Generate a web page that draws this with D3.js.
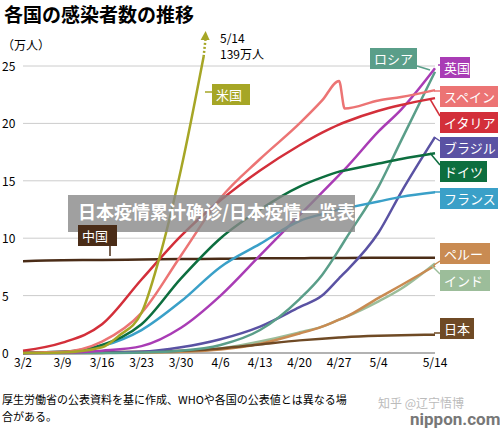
<!DOCTYPE html>
<html><head><meta charset="utf-8">
<script src="https://cdn.jsdelivr.net/npm/d3@7"></script>
<style>body{margin:0;background:#fff;font-family:"Noto Sans CJK JP","Noto Sans",sans-serif}</style>
</head><body><svg id="c" width="500" height="428"></svg>
<script>
const tickDates=["3/2","3/9","3/16","3/23","3/30","4/6","4/13","4/20","4/27","5/4","5/14"];
const yTicks=[0,5,10,15,20,25];
const usDates=["3/2","3/9","3/16","3/19","3/23","3/26","3/30","4/3"];
const usVals=[0,0.05,0.5,1.5,3.5,8,16,25.8];
const dates=["3/2","3/9","3/16","3/23","3/30","4/6","4/13","4/20","4/24","4/27","4/28","5/4","5/8","5/14"];
const italy=[0.2,0.9,2.5,6.4,10.2,13.3,15.9,18.1,19.2,19.9,20.1,21.1,21.6,22.2];
const spain=[0.01,0.1,1.0,3.5,8.5,13.5,16.9,20.0,22.0,23.7,21.3,22.0,22.3,22.9];
const germany=[0.01,0.1,0.7,2.5,6.5,10.0,12.5,14.5,15.3,15.8,15.9,16.5,16.9,17.4];
const france=[0.01,0.1,0.6,2.0,4.5,7.5,9.5,11.5,12.1,12.5,12.6,13.2,13.6,14.0];
const uk=[0,0.02,0.2,0.6,2.2,5.0,8.5,12.0,14.0,15.5,16.0,19.3,21.2,24.8];
const russia=[0,0,0.01,0.05,0.2,0.7,2.0,4.7,6.8,9.0,9.8,14.5,18.5,24.5];
const brazil=[0,0,0.02,0.1,0.5,1.2,2.3,4.0,5.0,6.5,7.0,10.5,14.0,18.8];
const peru=[0,0,0.01,0.03,0.1,0.3,0.8,1.7,2.3,2.9,3.1,4.8,5.9,7.6];
const india=[0,0,0.01,0.04,0.12,0.4,1.0,1.8,2.3,2.9,3.1,4.5,5.6,7.8];
const japan=[0,0.05,0.08,0.11,0.19,0.4,0.75,1.1,1.25,1.35,1.38,1.5,1.55,1.6];
const china=[8.0,8.09,8.1,8.15,8.19,8.2,8.25,8.25,8.28,8.28,8.28,8.29,8.29,8.3];

const svg=d3.select("#c");
const parse=s=>{const [m,d]=s.split("/").map(Number);return new Date(2020,m-1,d);};
const x=d3.scaleTime().domain([parse("3/2"),parse("5/14")]).range([23,435]);
const y=d3.scaleLinear().domain([0,25]).range([353,66]);
const F="'Noto Sans CJK JP',sans-serif";

svg.append("text").attr("x",4).attr("y",22).attr("font-size",19).attr("font-weight",700).attr("font-family",F).text("各国の感染者数の推移");
svg.append("text").attr("x",2).attr("y",50).attr("font-size",12).attr("font-family",F).text("（万人）");
yTicks.forEach(t=>{
  svg.append("line").attr("x1",23).attr("x2",435).attr("y1",y(t)).attr("y2",y(t)).attr("stroke",t?"#ccc":"#999").attr("stroke-width",t?1:1.5);
  svg.append("text").attr("x",2).attr("y",y(t)+5).attr("font-size",12).attr("font-family",F).text(t);
});
tickDates.forEach(t=>svg.append("text").attr("x",Math.max(x(parse(t)),14)).attr("y",367).attr("text-anchor","middle").attr("font-size",12).attr("font-family",F).text(t));

const line=d3.line().x(d=>x(d[0])).y(d=>y(d[1])).curve(d3.curveMonotoneX);
const ser=[
 [india,"#9cbd9a"],[peru,"#c98b52"],[japan,"#6f4a25"],[china,"#4a2c17"],[brazil,"#5a52a3"],[russia,"#5a9e89"],
 [uk,"#a93cb5"],[france,"#3aa0c8"],[germany,"#0d6e3f"],[spain,"#ec7474"],[italy,"#d32f3a"]];
ser.forEach(([v,c])=>svg.append("path").attr("d",line(dates.map((d,i)=>[parse(d),v[i]]))).attr("fill","none").attr("stroke",c).attr("stroke-width",2.5));
const us=usDates.map((d,i)=>[parse(d),usVals[i]]);
svg.append("path").attr("d",line(us)).attr("fill","none").attr("stroke","#a6a626").attr("stroke-width",2.5);
const ue=us[us.length-1];
svg.append("line").attr("x1",x(ue[0])).attr("y1",y(ue[1])).attr("x2",x(ue[0])+2).attr("y2",38).attr("stroke","#a6a626").attr("stroke-width",2.5).attr("stroke-dasharray","2,2");
svg.append("path").attr("d",`M${x(ue[0])-3},40L${x(ue[0])+2},31L${x(ue[0])+6},40Z`).attr("fill","#a6a626");
svg.append("text").attr("x",220).attr("y",43).attr("font-size",12).attr("font-family",F).text("5/14");
svg.append("text").attr("x",220).attr("y",59).attr("font-size",12).attr("font-family",F).text("139万人");

svg.append("rect").attr("x",68).attr("y",195).attr("width",287).attr("height",37).attr("fill","#888").attr("opacity",0.8);
svg.append("text").attr("x",78).attr("y",219).attr("font-size",18).attr("font-weight",700).attr("fill","#fff").attr("font-family",F).text("日本疫情累计确诊/日本疫情一览表");

const labs=[
 ["ロシア","#5a9e89",370,48,47,430,70],["英国","#a93cb5",440,57,30,438,65],["スペイン","#ec7474",440,86,58,434,91],
 ["イタリア","#d32f3a",440,112,58,430,99],["ブラジル","#5a52a3",440,137,58,434,137],["ドイツ","#0d6e3f",440,161,47,430,153],
 ["フランス","#3aa0c8",440,188,58,434,192],["ペルー","#c98b52",440,243,50,434,265],["インド","#9cbd9a",440,270,50,432,266],
 ["日本","#6f4a25",440,318,34,434,333],["中国","#4a2c17",78,225,39,110,256],["米国","#a6a626",212,84,38,205,92]];
labs.forEach(([n,c,bx,by,w,px,py])=>{
  const cx=Math.min(Math.max(px,bx),bx+w), cy=Math.min(Math.max(py,by+4),by+18);
  svg.append("line").attr("x1",cx).attr("y1",cy).attr("x2",px).attr("y2",py).attr("stroke",c).attr("stroke-width",1.5);
  svg.append("rect").attr("x",bx).attr("y",by).attr("width",w).attr("height",21).attr("fill",c);
  svg.append("text").attr("x",bx+4).attr("y",by+16).attr("font-size",13).attr("fill","#fff").attr("font-family",F).text(n);
});
svg.append("text").attr("x",2).attr("y",404).attr("font-size",11).attr("font-family",F).text("厚生労働省の公表資料を基に作成、WHOや各国の公表値とは異なる場");
svg.append("text").attr("x",2).attr("y",421).attr("font-size",11).attr("font-family",F).text("合がある。");
svg.append("text").attr("x",378).attr("y",408).attr("font-size",12).attr("fill","#bbb").attr("font-family",F).text("知乎 @辽宁悟博");
svg.append("text").attr("x",410).attr("y",425).attr("font-size",17).attr("font-weight",700).attr("fill","#777").attr("font-family","Roboto,sans-serif").text("nippon.com");
</script></body></html>
